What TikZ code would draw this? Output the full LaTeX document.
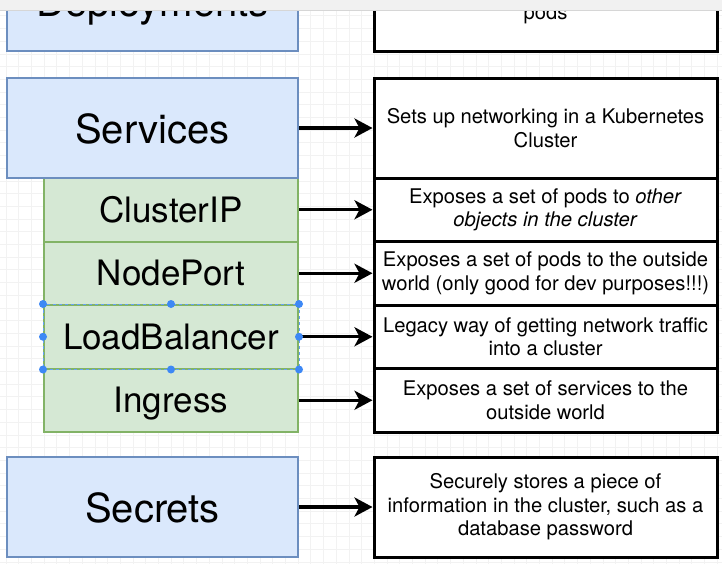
\documentclass[tikz,border=0pt]{standalone}
\usepackage{fontspec}
\setmainfont{TeX Gyre Heros}
\usetikzlibrary{arrows.meta}
\definecolor{blueFill}{HTML}{DAE8FC}
\definecolor{blueLine}{HTML}{6C8EBF}
\definecolor{greenFill}{HTML}{D5E8D4}
\definecolor{greenLine}{HTML}{82B366}
\definecolor{handleBlue}{HTML}{3D88F5}
\definecolor{barFill}{HTML}{F1F1F1}
\definecolor{barLine}{HTML}{D6D6D6}
\definecolor{gridGray}{HTML}{F2F2F2}
\tikzstyle{kind} = [rectangle, minimum width=291pt, minimum height=100pt, inner sep=0pt, text centered, text height=30pt, text depth=0pt, draw=blueLine, line width=2pt, fill=blueFill, font=\fontsize{40}{48}\selectfont]
\tikzstyle{subkind} = [rectangle, minimum width=254pt, minimum height=63.5pt, inner sep=0pt, text centered, text height=25pt, text depth=0pt, draw=greenLine, line width=2pt, fill=greenFill, font=\fontsize{35}{42}\selectfont]
\tikzstyle{desc} = [rectangle, minimum width=343pt, minimum height=100pt, inner sep=0pt, align=center, draw=black, line width=3pt, fill=white, font=\fontsize{20.2}{23.5}\selectfont]
\tikzstyle{subdesc} = [desc, minimum height=63.5pt]
\tikzstyle{arrow} = [line width=3.3pt, -{Stealth[length=18pt, width=19pt, inset=5pt]}]
\tikzstyle{handle} = [fill=handleBlue]

\begin{document}
\begin{tikzpicture}[x=1pt, y=-1pt]

\useasboundingbox (0,0) rectangle (722,563);
\clip (0,0) rectangle (722,563);

% Grid
\draw [gridGray, line width=0.6pt, xshift=5.9pt, yshift=-3pt] (-12.7,-12.7) grid [step=12.7pt] (730,570);

% Nodes
\node (deploy) at (152.5,1) [kind] {Deployments};
\node (deploydesc) at (545.5,1) [desc] {};
\node (deploytext) at (545.5,19) [anchor=base, font=\fontsize{20.2}{23.5}\selectfont] {pods};

\node (clusterip) at (171,209.75) [subkind] {ClusterIP};
\node (nodeport) at (171,273.25) [subkind] {NodePort};
\node (lb) at (171,336.75) [subkind] {LoadBalancer};
\node (ingress) at (171,400.25) [subkind] {Ingress};
\node (services) at (152.5,128) [kind] {Services};

\node (servicesdesc) at (545.5,128) [desc] {Sets up networking in a Kubernetes\\Cluster};
\node (clusteripdesc) at (545.5,209.75) [subdesc] {Exposes a set of pods to \textit{other}\\\textit{objects in the cluster}};
\node (nodeportdesc) at (545.5,273.25) [subdesc] {Exposes a set of pods to the outside\\world (only good for dev purposes!!!)};
\node (lbdesc) at (545.5,336.75) [subdesc] {Legacy way of getting network traffic\\into a cluster};
\node (ingressdesc) at (545.5,400.25) [subdesc] {Exposes a set of services to the\\outside world};

\node (secrets) at (152.5,507) [kind] {Secrets};
\node (secretsdesc) at (545.5,507) [desc] {Securely stores a piece of\\information in the cluster, such as a\\database password};

% Arrows
\draw [arrow] (services) -- (servicesdesc);
\draw [arrow] (clusterip) -- (clusteripdesc);
\draw [arrow] (nodeport) -- (nodeportdesc);
\draw [arrow] (lb) -- (lbdesc);
\draw [arrow] (ingress) -- (ingressdesc);
\draw [arrow] (secrets) -- (secretsdesc);

% Selection handles
\draw [handleBlue!80, dashed, line width=0.8pt] (lb.north west) rectangle (lb.south east);
\foreach \a in {north west, north, north east, west, east, south west, south, south east}
  \fill [handle] (lb.\a) circle (4pt);

% Toolbar
\fill [barFill] (0,0) rectangle (722,10);
\draw [barLine, line width=1pt] (0,10) -- (722,10);

\end{tikzpicture}
\end{document}
